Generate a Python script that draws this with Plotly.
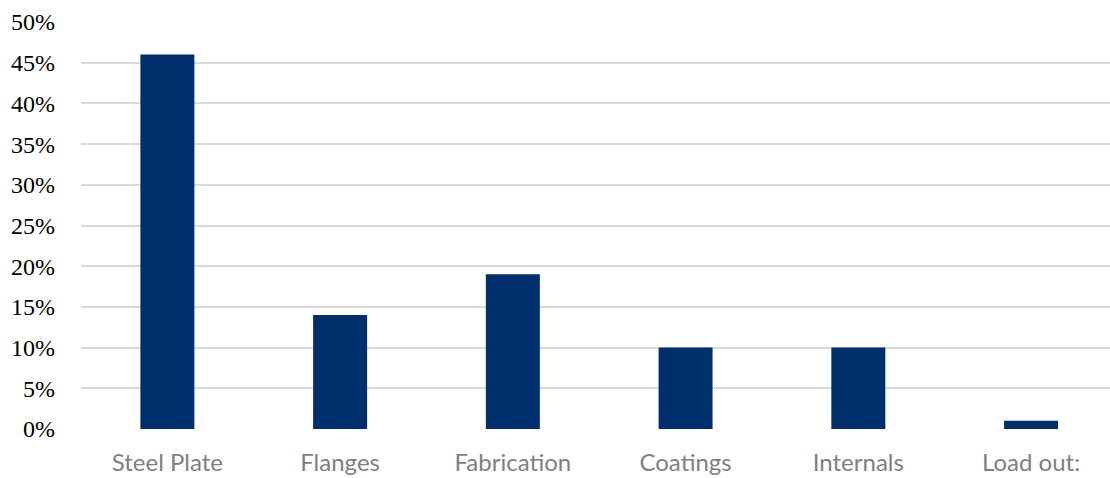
import plotly.graph_objects as go

categories = ["Steel Plate", "Flanges", "Fabrication", "Coatings", "Internals", "Load out:"]
values = [0.46, 0.14, 0.19, 0.10, 0.10, 0.01]
y_ticks = [0, 0.05, 0.10, 0.15, 0.20, 0.25, 0.30, 0.35, 0.40, 0.45, 0.50]
y_tick_labels = ["0%", "5%", "10%", "15%", "20%", "25%", "30%", "35%", "40%", "45%", "50%"]

fig = go.Figure(go.Bar(
    x=categories, y=values,
    marker=dict(color="#002F6C", line=dict(width=0)),
    width=0.3125,
))

fig.update_layout(
    width=1110, height=478,
    margin=dict(l=81, r=0, t=22, b=49),
    paper_bgcolor="white", plot_bgcolor="white",
    showlegend=False,
    xaxis=dict(
        range=[-0.5, 5.457],
        showgrid=False, zeroline=False, showline=False,
        tickfont=dict(family="Lato", size=24, color="#7F7F7F"),
        ticks="", ticklabelstandoff=17,
    ),
    yaxis=dict(
        range=[0, 0.5],
        tickvals=y_ticks, ticktext=y_tick_labels,
        showgrid=True, gridcolor="#D9D9D9", gridwidth=2,
        zeroline=False, showline=False,
        tickfont=dict(family="Liberation Serif", size=24, color="black"),
        ticks="", ticklabelstandoff=25,
    ),
)

fig.write_html("out.html")
